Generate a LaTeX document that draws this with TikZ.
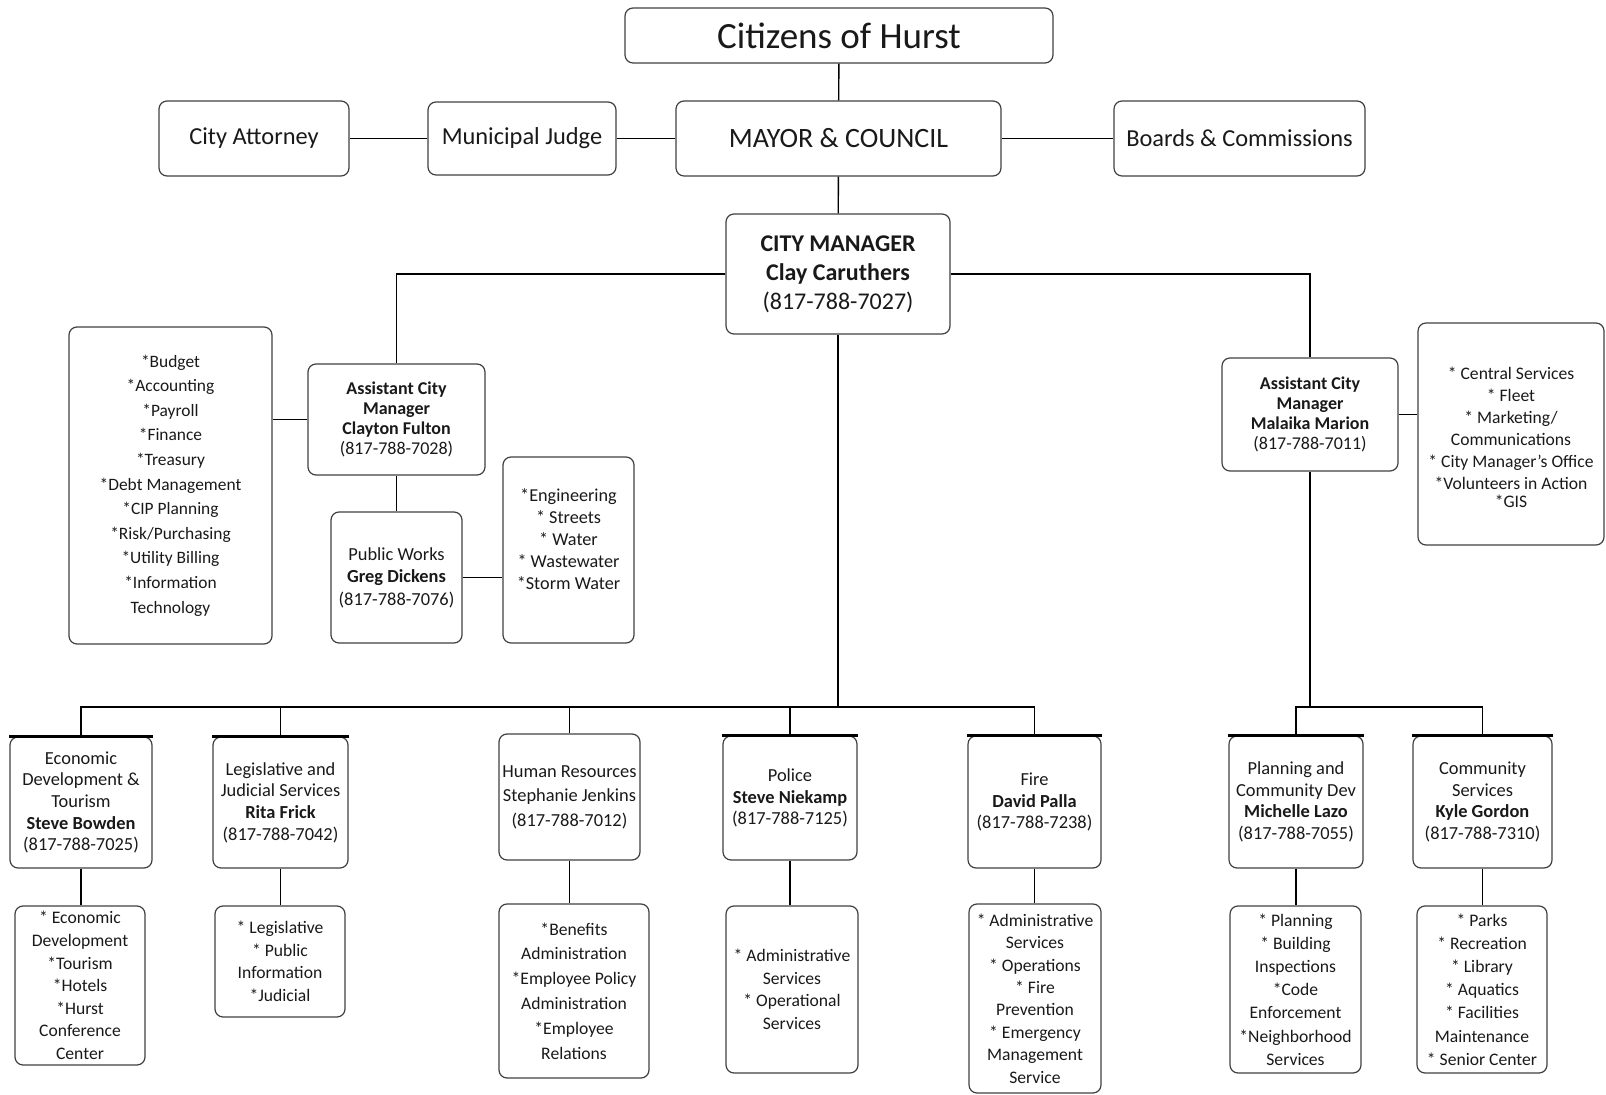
\documentclass[tikz,border=0pt]{standalone}
\usepackage{fontspec}
\setmainfont{Carlito}
\usepackage{tikz}

\tikzset{
  box/.style={draw=black!75, line width=0.6pt, rounded corners=4pt, align=center, inner sep=0pt, text=black!90},
  head/.style={box, font=\fontsize{9.2}{10.8}\selectfont},
  duty/.style={box, font=\fontsize{8.8}{11.3}\selectfont},
  link/.style={line width=0.7pt},
  topbar/.style={line width=1.6pt},
}

\begin{document}
\begin{tikzpicture}[x=0.5pt,y=-0.5pt]
\useasboundingbox (0,0) rectangle (1606,1095);

% top levels
\node[box, font=\fontsize{18.5}{20}\selectfont, minimum width=214pt, minimum height=27.5pt] (cit) at (839,35.5) {Citizens of Hurst};
\node[box, font=\fontsize{14}{16}\selectfont, minimum width=162.5pt, minimum height=37.5pt] (mayor) at (838.5,138.5) {MAYOR \& COUNCIL};
\node[box, font=\fontsize{12.2}{14}\selectfont, minimum width=94pt, minimum height=36.5pt] (judge) at (522,138.5) {Municipal Judge};
\node[box, font=\fontsize{12.2}{14}\selectfont, minimum width=95pt, minimum height=37.5pt] (att) at (254,138.5) {City Attorney};
\node[box, font=\fontsize{12.2}{14}\selectfont, minimum width=125.5pt, minimum height=37.5pt] (boards) at (1239.5,138.5) {Boards \& Commissions};
\node[box, font=\fontsize{12}{14.5}\selectfont, minimum width=112pt, minimum height=60pt] (cm) at (838,274) {\textbf{CITY MANAGER}\\\textbf{Clay Caruthers}\\(817-788-7027)};

% assistant city managers
\node[box, font=\fontsize{9}{10}\selectfont, minimum width=88.5pt, minimum height=55.5pt] (acml) at (396.5,419.5) {\textbf{Assistant City}\\\textbf{Manager}\\\textbf{Clayton Fulton}\\(817-788-7028)};
\node[box, font=\fontsize{8.7}{12.3}\selectfont, minimum width=101.5pt, minimum height=158.5pt] (listl) at (170.5,485.5) {*Budget\\*Accounting\\*Payroll\\*Finance\\*Treasury\\*Debt Management\\*CIP Planning\\*Risk/Purchasing\\*Utility Billing\\*Information\\Technology};
\node[box, font=\fontsize{9.2}{11.25}\selectfont, minimum width=65.5pt, minimum height=65.5pt] (pw) at (396.5,577.5) {Public Works\\\textbf{Greg Dickens}\\(817-788-7076)};
\node[box, font=\fontsize{9.1}{11}\selectfont, minimum width=65.5pt, minimum height=93pt] (listpw) at (568.5,550) {*Engineering\\* Streets\\* Water\\* Wastewater\\*Storm Water\\[0pt]};
\node[box, font=\fontsize{9}{10}\selectfont, minimum width=88pt, minimum height=56.5pt] (acmr) at (1310,414.5) {\textbf{Assistant City}\\\textbf{Manager}\\\textbf{Malaika Marion}\\(817-788-7011)};
\node[box, font=\fontsize{8.8}{11}\selectfont, minimum width=93pt, minimum height=111pt] (listr) at (1511,434) {{}\\[-1pt]* Central Services\\* Fleet\\* Marketing/\\Communications\\* City Manager's Office\\*Volunteers in Action\\[-2pt]*GIS};

% departments
\node[head, minimum width=71pt, minimum height=65.5pt] (econ) at (81,802.5) {Economic\\Development \&\\Tourism\\\textbf{Steve Bowden}\\(817-788-7025)};
\node[head, minimum width=67.5pt, minimum height=65.5pt] (leg) at (280.5,802.5) {Legislative and\\Judicial Services\\\textbf{Rita Frick}\\(817-788-7042)};
\node[head, font=\fontsize{9.2}{12.2}\selectfont, minimum width=70.5pt, minimum height=63pt] (hr) at (569.5,797) {Human Resources\\Stephanie Jenkins\\(817-788-7012)};
\node[head, minimum width=67pt, minimum height=62pt] (police) at (790,798) {Police\\\textbf{Steve Niekamp}\\(817-788-7125)};
\node[head, minimum width=66.5pt, minimum height=66pt] (fire) at (1034.5,802) {Fire\\\textbf{David Palla}\\(817-788-7238)};
\node[head, minimum width=67pt, minimum height=66pt] (plan) at (1296,802) {Planning and\\Community Dev\\\textbf{Michelle Lazo}\\(817-788-7055)};
\node[head, minimum width=69.5pt, minimum height=66pt] (comm) at (1482.5,802) {Community\\Services\\\textbf{Kyle Gordon}\\(817-788-7310)};

% duties
\node[duty, minimum width=65pt, minimum height=79.5pt] (econl) at (80,985.5) {* Economic\\Development\\*Tourism\\*Hotels\\*Hurst\\Conference\\Center};
\node[duty, minimum width=65pt, minimum height=55.5pt] (legl) at (280,961.5) {* Legislative\\* Public\\Information\\*Judicial};
\node[duty, font=\fontsize{8.8}{12.4}\selectfont, minimum width=75pt, minimum height=87pt] (hrl) at (574,991) {*Benefits\\Administration\\*Employee Policy\\Administration\\*Employee\\Relations};
\node[duty, minimum width=66pt, minimum height=83.5pt] (policel) at (792,989.5) {* Administrative\\Services\\* Operational\\Services};
\node[duty, font=\fontsize{8.8}{11.2}\selectfont, minimum width=66pt, minimum height=94.5pt] (firel) at (1035,998.5) {* Administrative\\Services\\* Operations\\* Fire\\Prevention\\* Emergency\\Management\\Service};
\node[duty, font=\fontsize{8.8}{11.6}\selectfont, minimum width=65.5pt, minimum height=83.5pt] (planl) at (1295.5,989.5) {* Planning\\* Building\\Inspections\\*Code\\Enforcement\\*Neighborhood\\Services};
\node[duty, font=\fontsize{8.8}{11.6}\selectfont, minimum width=65pt, minimum height=83.5pt] (comml) at (1482,989.5) {* Parks\\* Recreation\\* Library\\* Aquatics\\* Facilities\\Maintenance\\* Senior Center};

\coordinate (bus) at (838,707);
\coordinate (busr) at (1310,707);

% connectors
\draw[link] (cit) -- (mayor);
\draw[link] (att) -- (judge);
\draw[link] (judge) -- (mayor);
\draw[link] (mayor) -- (boards);
\draw[link] (mayor) -- (cm);
\draw[link] (cm.west) -| (acml.north);
\draw[link] (cm.east) -| (acmr.north);
\draw[link] (acml.west) -- (acml.west -| listl.east);
\draw[link] (acml) -- (pw);
\draw[link] (pw.east) -- (pw.east -| listpw.west);
\draw[link] (acmr.east) -- (acmr.east -| listr.west);
\draw[link] (cm) -- (bus);
\draw[link] (acmr) -- (busr);
\foreach \n in {econ,leg,hr,police,fire}
  \draw[link] (\n.north) |- (bus);
\foreach \n in {plan,comm}
  \draw[link] (\n.north) |- (busr);
\foreach \a/\b in {econ/econl,leg/legl,hr/hrl,police/policel,fire/firel,plan/planl,comm/comml}
  \draw[link] (\a.south) -- (\a.south |- \b.north);
\foreach \n in {econ,leg,police,fire,plan,comm}
  \draw[topbar] (\n.north west) -- (\n.north east);
\end{tikzpicture}
\end{document}
